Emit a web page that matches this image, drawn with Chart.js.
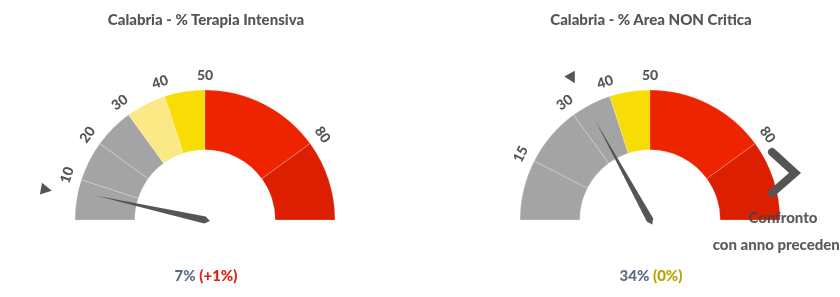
<!DOCTYPE html>
<html>
<head>
<meta charset="utf-8">
<script src="https://cdn.jsdelivr.net/npm/chart.js@4.4.1/dist/chart.umd.min.js"></script>
<style>
  html, body { margin: 0; padding: 0; background: #fff; }
  body { width: 840px; height: 297px; overflow: hidden; position: relative; font-family: Lato, 'Open Sans', sans-serif; }
  .box { position: absolute; top: 0; width: 420px; height: 297px; }
  .txt { position: absolute; transform: translateX(-50%); white-space: nowrap; font-weight: 900; color: #555; }
  .title { top: 10px; font-size: 15px; }
  .val { top: 266px; font-size: 15px; }
  .cur { color: #5b6e86; }
  #confronto { position: absolute; left: 783px; top: 204px; transform: translateX(-50%); text-align: center; white-space: nowrap;
    font-weight: 900; font-size: 15px; line-height: 27px; color: rgba(70, 70, 70, 0.88); }
  #chev { position: absolute; left: 760px; top: 140px; }
</style>
</head>
<body>
<div class="box" style="left:0"><canvas id="g1"></canvas></div>
<div class="box" style="left:420px"><canvas id="g2"></canvas></div>

<div class="txt title" style="left:206px">Calabria - % Terapia Intensiva</div>
<div class="txt title" style="left:651px">Calabria - % Area NON Critica</div>
<div class="txt val" style="left:206px"><span class="cur">7%</span> <span style="color:#e2200f">(+1%)</span></div>
<div class="txt val" style="left:651px"><span class="cur">34%</span> <span style="color:#b9a200">(0%)</span></div>

<svg id="chev" width="50" height="70">
  <polyline points="12,12 35,33 12,53" fill="none" stroke="#555" stroke-width="8" stroke-linecap="round" stroke-linejoin="miter"/>
</svg>
<div id="confronto">Confronto<br>con anno precedente</div>

<script>
// band widths (in %) for each gauge, from 0 to 100
const bandsTI = [10, 10, 10, 10, 10, 30, 20];
const colorsTI = ['#a4a4a4', '#a4a4a4', '#a4a4a4', '#fbe985', '#f8dc05', '#ee2300', '#dc1f00'];
const ticksTI = [10, 20, 30, 40, 50, 80];
const valueTI = 7;
const prevTI = 6;

const bandsNC = [15, 15, 10, 10, 30, 20];
const colorsNC = ['#a4a4a4', '#a4a4a4', '#a4a4a4', '#f8dc05', '#ee2300', '#dc1f00'];
const ticksNC = [15, 30, 40, 50, 80];
const valueNC = 34;
const prevNC = 34;

const gaugeDecor = {
  id: 'gaugeDecor',
  afterDatasetsDraw(chart, args, opts) {
    const meta = chart.getDatasetMeta(0);
    const first = meta.data[0];
    const last = meta.data[meta.data.length - 1];
    const cx = first.x, cy = first.y, r = first.outerRadius;
    const a0 = first.startAngle, a1 = last.endAngle;
    const ang = (v) => a0 + (v / 100) * (a1 - a0);
    const ctx = chart.ctx;
    ctx.save();

    // tick labels, tangent to the arc
    ctx.font = '900 14px Lato, sans-serif';
    ctx.fillStyle = '#555';
    ctx.textAlign = 'center';
    ctx.textBaseline = 'middle';
    for (const t of opts.ticks) {
      const a = ang(t);
      ctx.save();
      ctx.translate(cx + Math.cos(a) * (r + 15), cy + Math.sin(a) * (r + 15));
      ctx.rotate(a + Math.PI / 2);
      ctx.fillText(String(t), 0, 0);
      ctx.restore();
    }

    // needle
    const a = ang(opts.value);
    const dx = Math.cos(a), dy = Math.sin(a);
    const px = -dy, py = dx;
    const tipR = r * 0.865, w = 3.5;
    ctx.fillStyle = '#555';
    ctx.beginPath();
    ctx.moveTo(cx + dx * tipR, cy + dy * tipR);
    ctx.lineTo(cx + px * w, cy + py * w);
    ctx.lineTo(cx - dx * 5, cy - dy * 5);
    ctx.lineTo(cx - px * w, cy - py * w);
    ctx.closePath();
    ctx.fill();

    // previous-year marker
    const b = ang(opts.prev);
    const bx = Math.cos(b), by = Math.sin(b);
    const qx = -by, qy = bx;
    const r1 = r + 26, r2 = r + 37, hw = 6;
    ctx.beginPath();
    ctx.moveTo(cx + bx * r1, cy + by * r1);
    ctx.lineTo(cx + bx * r2 + qx * hw, cy + by * r2 + qy * hw);
    ctx.lineTo(cx + bx * r2 - qx * hw, cy + by * r2 - qy * hw);
    ctx.closePath();
    ctx.fill();
    ctx.restore();
  }
};

function makeGauge(id, bands, colors, ticks, value, prev, padLeft, padRight) {
  return new Chart(document.getElementById(id), {
    type: 'doughnut',
    data: {
      labels: bands.map((b, i) => 'band ' + i),
      datasets: [{
        data: bands,
        backgroundColor: colors,
        borderColor: 'rgba(255,255,255,0.35)',
        borderWidth: 0.6,
        hoverOffset: 0
      }]
    },
    options: {
      responsive: true,
      maintainAspectRatio: false,
      animation: false,
      rotation: -90,
      circumference: 180,
      radius: 130,
      cutout: '54%',
      layout: { padding: { left: padLeft, right: padRight, top: 90, bottom: 77 } },
      plugins: {
        legend: { display: false },
        tooltip: { enabled: false },
        gaugeDecor: { ticks, value, prev }
      }
    },
    plugins: [gaugeDecor]
  });
}

makeGauge('g1', bandsTI, colorsTI, ticksTI, valueTI, prevTI, 75, 85);
makeGauge('g2', bandsNC, colorsNC, ticksNC, valueNC, prevNC, 100, 60);
</script>
</body>
</html>
